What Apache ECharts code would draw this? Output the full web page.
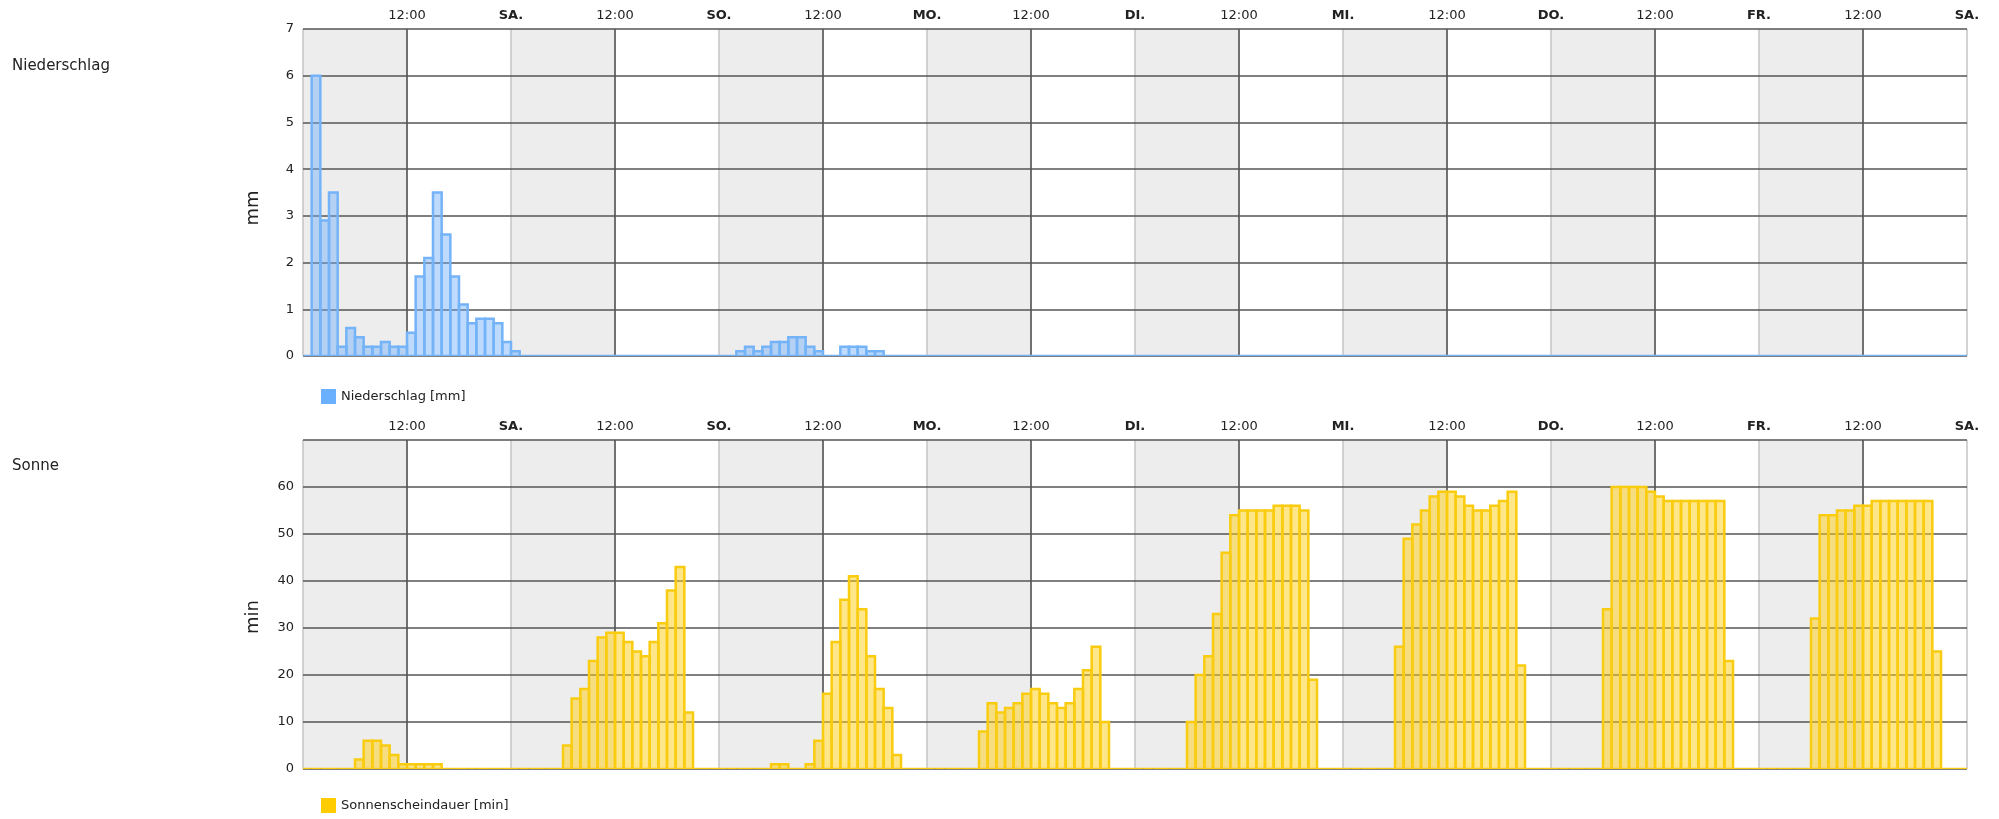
<!DOCTYPE html>
<html><head><meta charset="utf-8">
<script src="https://cdn.jsdelivr.net/npm/echarts/dist/echarts.min.js"></script>
<style>html,body{margin:0;padding:0;background:#fff}#c{width:1999px;height:819px}</style>
</head><body><div id="c"></div>
<script>
// x axis: hours from Friday 00:00, 8 days
const dayNames = ['FR.', 'SA.', 'SO.', 'MO.', 'DI.', 'MI.', 'DO.', 'FR.', 'SA.'];
const midLabel = '12:00';
const precipTicks = [0, 1, 2, 3, 4, 5, 6, 7];
const sunTicks = [0, 10, 20, 30, 40, 50, 60];

// Niederschlag [mm], hourly, one array per day (hour 0..23)
const precipFr1 = [0, 6.0, 2.9, 3.5, 0.2, 0.6, 0.4, 0.2, 0.2, 0.3, 0.2, 0.2, 0.5, 1.7, 2.1, 3.5, 2.6, 1.7, 1.1, 0.7, 0.8, 0.8, 0.7, 0.3];
const precipSa1 = [0.1, 0, 0, 0, 0, 0, 0, 0, 0, 0, 0, 0, 0, 0, 0, 0, 0, 0, 0, 0, 0, 0, 0, 0];
const precipSo  = [0, 0, 0.1, 0.2, 0.1, 0.2, 0.3, 0.3, 0.4, 0.4, 0.2, 0.1, 0, 0, 0.2, 0.2, 0.2, 0.1, 0.1, 0, 0, 0, 0, 0];
const precipMo  = [0, 0, 0, 0, 0, 0, 0, 0, 0, 0, 0, 0, 0, 0, 0, 0, 0, 0, 0, 0, 0, 0, 0, 0];
const precipDi  = [0, 0, 0, 0, 0, 0, 0, 0, 0, 0, 0, 0, 0, 0, 0, 0, 0, 0, 0, 0, 0, 0, 0, 0];
const precipMi  = [0, 0, 0, 0, 0, 0, 0, 0, 0, 0, 0, 0, 0, 0, 0, 0, 0, 0, 0, 0, 0, 0, 0, 0];
const precipDo  = [0, 0, 0, 0, 0, 0, 0, 0, 0, 0, 0, 0, 0, 0, 0, 0, 0, 0, 0, 0, 0, 0, 0, 0];
const precipFr2 = [0, 0, 0, 0, 0, 0, 0, 0, 0, 0, 0, 0, 0, 0, 0, 0, 0, 0, 0, 0, 0, 0, 0, 0];

// Sonnenscheindauer [min], hourly
const sunFr1 = [0, 0, 0, 0, 0, 0, 2, 6, 6, 5, 3, 1, 1, 1, 1, 1, 0, 0, 0, 0, 0, 0, 0, 0];
const sunSa1 = [0, 0, 0, 0, 0, 0, 5, 15, 17, 23, 28, 29, 29, 27, 25, 24, 27, 31, 38, 43, 12, 0, 0, 0];
const sunSo  = [0, 0, 0, 0, 0, 0, 1, 1, 0, 0, 1, 6, 16, 27, 36, 41, 34, 24, 17, 13, 3, 0, 0, 0];
const sunMo  = [0, 0, 0, 0, 0, 0, 8, 14, 12, 13, 14, 16, 17, 16, 14, 13, 14, 17, 21, 26, 10, 0, 0, 0];
const sunDi  = [0, 0, 0, 0, 0, 0, 10, 20, 24, 33, 46, 54, 55, 55, 55, 55, 56, 56, 56, 55, 19, 0, 0, 0];
const sunMi  = [0, 0, 0, 0, 0, 0, 26, 49, 52, 55, 58, 59, 59, 58, 56, 55, 55, 56, 57, 59, 22, 0, 0, 0];
const sunDo  = [0, 0, 0, 0, 0, 0, 34, 60, 60, 60, 60, 59, 58, 57, 57, 57, 57, 57, 57, 57, 23, 0, 0, 0];
const sunFr2 = [0, 0, 0, 0, 0, 0, 32, 54, 54, 55, 55, 56, 56, 57, 57, 57, 57, 57, 57, 57, 25, 0, 0, 0];

const precipDays = [precipFr1, precipSa1, precipSo, precipMo, precipDi, precipMi, precipDo, precipFr2];
const sunDays = [sunFr1, sunSa1, sunSo, sunMo, sunDi, sunMi, sunDo, sunFr2];

function toSeriesData(days) {
  const out = [];
  days.forEach((arr, d) => arr.forEach((v, h) => out.push([d * 24 + h, v])));
  return out;
}

const FONT = 'DejaVu Sans';
const TXT = '#222';

function barRenderer(fill, stroke) {
  return function (params, api) {
    const x = api.value(0), y = api.value(1);
    const p0 = api.coord([x, y]);
    const p1 = api.coord([x + 1, 0]);
    return {
      type: 'rect',
      shape: { x: p0[0], y: p0[1], width: p1[0] - p0[0], height: p1[1] - p0[1] },
      style: { fill: fill, stroke: stroke, lineWidth: 2.5 }
    };
  };
}

function xAxisCfg(gi) {
  return {
    type: 'value', gridIndex: gi, min: 0, max: 192, interval: 12, position: 'top', z: 0,
    axisLine: { show: false }, axisTick: { show: false },
    axisLabel: {
      showMinLabel: false, showMaxLabel: true, margin: 7, fontSize: 13, color: TXT, fontFamily: FONT,
      formatter: v => (v % 24 === 0 ? '{b|' + dayNames[v / 24] + '}' : midLabel),
      rich: { b: { fontWeight: 'bold', fontSize: 13, color: TXT, fontFamily: FONT } }
    },
    splitLine: { show: true, lineStyle: { color: ['#c4c4c4', '#444444'], width: 1.5 } },
    splitArea: { show: true, areaStyle: { color: ['#ededed', '#ffffff'] } }
  };
}

function yAxisCfg(gi, ticks) {
  const step = ticks[1] - ticks[0];
  return {
    type: 'value', gridIndex: gi, z: 1,
    min: 0, max: gi === 0 ? ticks[ticks.length - 1] : ticks[ticks.length - 1] + step,
    interval: step,
    axisLine: { show: false }, axisTick: { show: false },
    axisLabel: { fontSize: 13, color: TXT, fontFamily: FONT, margin: 9, showMaxLabel: gi === 0,
      formatter: v => (ticks.indexOf(v) >= 0 ? String(v) : '') },
    splitLine: { show: true, lineStyle: { color: '#555555', width: 1.5 } }
  };
}

const chart = echarts.init(document.getElementById('c'));
chart.setOption({
  animation: false,
  backgroundColor: '#ffffff',
  textStyle: { fontFamily: FONT },
  grid: [
    { left: 303, top: 29, width: 1664, height: 327 },
    { left: 303, top: 440, width: 1664, height: 329 }
  ],
  xAxis: [xAxisCfg(0), xAxisCfg(1)],
  yAxis: [yAxisCfg(0, precipTicks), yAxisCfg(1, sunTicks)],
  legend: [
    { data: ['Niederschlag [mm]'], left: 316, top: 384, itemWidth: 15, itemHeight: 15, icon: 'rect',
      textStyle: { fontSize: 13, color: TXT, fontFamily: FONT } },
    { data: ['Sonnenscheindauer [min]'], left: 316, top: 793, itemWidth: 15, itemHeight: 15, icon: 'rect',
      textStyle: { fontSize: 13, color: TXT, fontFamily: FONT } }
  ],
  graphic: [
    { type: 'text', left: 12, top: 59, style: { text: 'Niederschlag', fontSize: 15, fill: TXT, fontFamily: FONT } },
    { type: 'text', left: 12, top: 459, style: { text: 'Sonne', fontSize: 15, fill: TXT, fontFamily: FONT } },
    { type: 'text', x: 253, y: 208, rotation: Math.PI / 2,
      style: { text: 'mm', fontSize: 18, fill: TXT, fontFamily: FONT, align: 'center', verticalAlign: 'middle' } },
    { type: 'text', x: 253, y: 617, rotation: Math.PI / 2,
      style: { text: 'min', fontSize: 18, fill: TXT, fontFamily: FONT, align: 'center', verticalAlign: 'middle' } }
  ],
  series: [
    { name: 'Niederschlag [mm]', type: 'custom', xAxisIndex: 0, yAxisIndex: 0, clip: true, z: 3,
      itemStyle: { color: '#6ab0ff' },
      renderItem: barRenderer('rgba(110,175,250,0.45)', '#74b3f8'),
      encode: { x: 0, y: 1 }, data: toSeriesData(precipDays) },
    { name: 'Sonnenscheindauer [min]', type: 'custom', xAxisIndex: 1, yAxisIndex: 1, clip: true, z: 3,
      itemStyle: { color: '#ffcc00' },
      renderItem: barRenderer('rgba(255,206,20,0.5)', '#f9cc10'),
      encode: { x: 0, y: 1 }, data: toSeriesData(sunDays) }
  ]
});
</script></body></html>
